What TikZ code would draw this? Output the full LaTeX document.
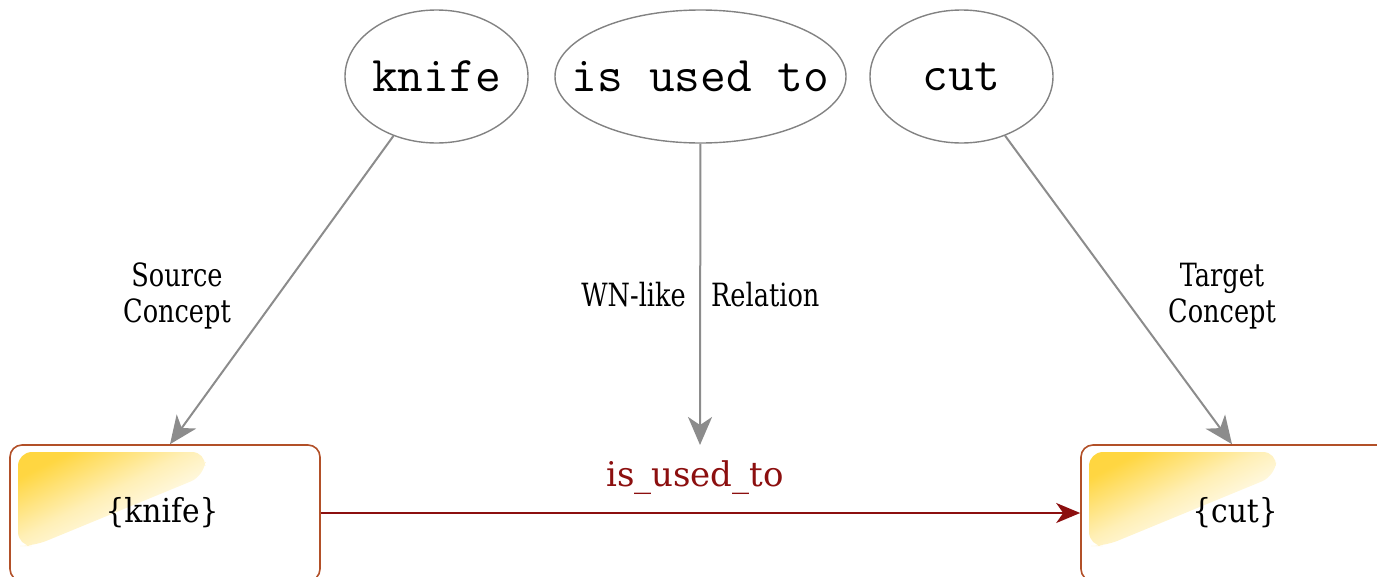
\documentclass[tikz,border=0pt]{standalone}
\usepackage{fontspec}
\newfontfamily\labelfont[FakeStretch=0.8]{DejaVu Serif}
\newfontfamily\synfont[FakeStretch=0.9]{DejaVu Serif}
\newfontfamily\relfont{DejaVu Serif}
\usetikzlibrary{arrows.meta,shapes.geometric}
\definecolor{edgegray}{RGB}{140,140,140}
\definecolor{ringgray}{RGB}{130,130,130}
\definecolor{boxbrown}{RGB}{178,80,40}
\definecolor{reddark}{RGB}{140,15,15}
\definecolor{blobyellow}{RGB}{255,210,45}
% soft yellow wash for the box corners
\pgfdeclareverticalshading{blobwash}{100bp}{color(0bp)=(white); color(38bp)=(white);
  color(52bp)=(blobyellow!35); color(66bp)=(blobyellow!90); color(100bp)=(blobyellow)}
% word inside an ellipse: zero width so the ellipse keeps its given size
\newcommand\conceptword[1]{\makebox[0pt][c]{#1}}
\begin{document}
\begin{tikzpicture}[x=1pt,y=-1pt,
  concept/.style={ellipse, draw=ringgray, line width=1.4pt, inner sep=0pt,
    minimum width=183pt, minimum height=133pt,
    font=\ttfamily\fontsize{50}{56}\selectfont},
  synbox/.style={draw=boxbrown, line width=1.6pt, rounded corners=12pt,
    minimum width=310pt, minimum height=136pt, inner sep=0pt},
  conn/.style={draw=edgegray, line width=2pt,
    -{Stealth[length=28pt,width=24pt,inset=8pt]}},
  relarrow/.style={draw=reddark, line width=2pt,
    -{Stealth[length=24pt,width=20pt,inset=7pt]}},
  lbl/.style={font=\labelfont\fontsize{32}{36}\selectfont, align=center, inner sep=0pt},
  boxtext/.style={font=\synfont\fontsize{33}{40}\selectfont, inner sep=0pt},
  rellabel/.style={font=\relfont\fontsize{34}{40}\selectfont, text=reddark, inner sep=0pt},
  blob/.pic={
    \begin{scope}
      \clip[rounded corners=14pt]
        (0,0) -- (188,0) -- (186,24) -- (16,94) -- (0,94) -- cycle;
      \shade[shading=blobwash, shading angle=27] (-1,-48) rectangle (189,142);
    \end{scope}
  }
]
\useasboundingbox (0,0) rectangle (1377,576);

% highlighted corners of the two synset boxes
\pic (srcblob) at (18,452) {blob};
\pic (tgtblob) at (1089,452) {blob};

% concept ellipses
\node[concept] (knife) at (436.5,76.5) {\conceptword{knife}};
\node[concept, minimum width=291pt] (rel) at (700.5,76.5) {\conceptword{is used to}};
\node[concept] (cut) at (961.5,76.5) {\conceptword{cut}};

% synset boxes
\node[synbox] (src) at (165,513) {};
\node[synbox] (tgt) at (1236,513) {};
\node[boxtext] (srcname) at (162,513) {\{knife\}};
\node[boxtext] (tgtname) at (1235,513) {\{cut\}};

% connectors
\coordinate (relend) at (700,445);
\draw[conn] (knife) -- ([xshift=5pt]src.north);
\draw[conn] (rel) -- (relend);
\draw[conn] (cut) -- ([xshift=-4pt]tgt.north);
\draw[relarrow] (src.east) -- (tgt.west);

% labels
\node[lbl] (srclbl) at (177,296) {Source\\Concept};
\node[lbl, anchor=east] (wnlbl) at (686,295) {WN-like};
\node[lbl, anchor=west] (rellbl) at (711,295) {Relation};
\node[lbl] (tgtlbl) at (1222,296) {Target\\Concept};
\node[rellabel] (relname) at (695,478) {is\_used\_to};
\end{tikzpicture}
\end{document}
